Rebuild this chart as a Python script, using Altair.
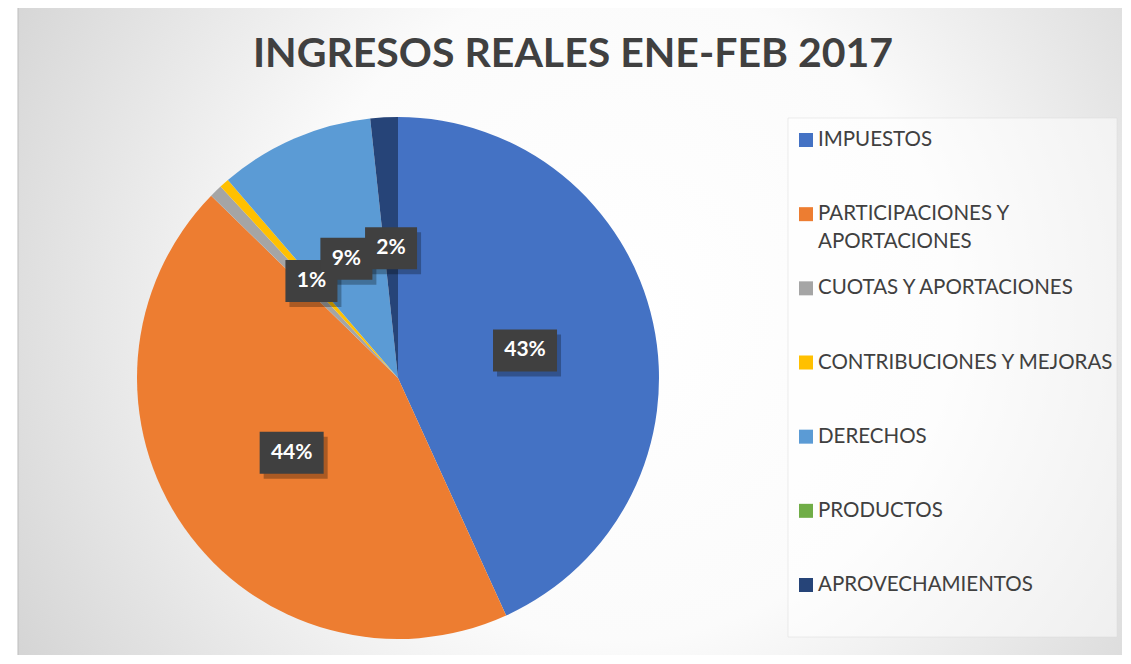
import altair as alt
import pandas as pd

TITLE = "INGRESOS REALES ENE-FEB 2017"
categories = [
    "IMPUESTOS",
    "PARTICIPACIONES Y APORTACIONES",
    "CUOTAS Y APORTACIONES",
    "CONTRIBUCIONES Y MEJORAS",
    "DERECHOS",
    "PRODUCTOS",
    "APROVECHAMIENTOS",
]
legend_text = [
    "IMPUESTOS",
    "PARTICIPACIONES Y|APORTACIONES",
    "CUOTAS Y APORTACIONES",
    "CONTRIBUCIONES Y MEJORAS",
    "DERECHOS",
    "PRODUCTOS",
    "APROVECHAMIENTOS",
]
shares = [43.2, 44.1, 0.8, 0.6, 9.6, 0.0, 1.7]
slice_labels = ["43%", "44%", "", "1%", "9%", "", "2%"]
colors = ["#4472C4", "#ED7D31", "#A5A5A5", "#FFC000", "#5B9BD5", "#70AD47", "#264478"]

df = pd.DataFrame({
    "idx": list(range(len(categories))),
    "cat": categories,
    "share": shares,
    "lbl": slice_labels,
    "leg": legend_text,
})
title_df = pd.DataFrame({"title": [TITLE]})

R = 261.0
color_scale = alt.Scale(domain=categories, range=colors)
unit = alt.Scale(domain=[-1, 1], nice=False, zero=False)

bg_grad = alt.RadialGradient(
    gradient="radial",
    x1=0.54, y1=0.48, x2=0.54, y2=0.48, r1=0, r2=0.78,
    stops=[
        alt.GradientStop(color="#ffffff", offset=0),
        alt.GradientStop(color="#fbfbfb", offset=0.38),
        alt.GradientStop(color="#c2c2c2", offset=1),
    ],
)

background = alt.Chart(title_df).mark_rect(
    fill=bg_grad, stroke="#bdbdbd", strokeWidth=1
).encode(x=alt.value(-119), x2=alt.value(990), y=alt.value(-112), y2=alt.value(545))

legend_bg = alt.Chart(title_df).mark_rect(
    fill="#ffffff", fillOpacity=0.5, stroke="#d8d8d8", strokeWidth=0.5
).encode(x=alt.value(651), x2=alt.value(980), y=alt.value(1), y2=alt.value(520))

base = alt.Chart(df)

pie = base.mark_arc(outerRadius=R).encode(
    theta=alt.Theta("share:Q", stack=True),
    color=alt.Color("cat:N", scale=color_scale, legend=None),
    order=alt.Order("idx:Q"),
)

pos = (
    base.transform_window(cum="sum(share)", sort=[alt.SortField("idx")], frame=[None, 0])
    .transform_joinaggregate(total="sum(share)")
    .transform_calculate(mid="2*PI*(datum.cum - datum.share/2)/datum.total")
    .transform_calculate(
        lx="0.498*sin(datum.mid)",
        ly="0.498*cos(datum.mid)",
        hw=f"(28 + 12*length(datum.lbl))/2/{R}",
        hh=f"21/{R}",
    )
    .transform_calculate(
        x0="datum.lx - datum.hw", x1="datum.lx + datum.hw",
        y0="datum.ly - datum.hh", y1="datum.ly + datum.hh",
        sx0=f"datum.lx - datum.hw + 4/{R}", sx1=f"datum.lx + datum.hw + 4/{R}",
        sy0=f"datum.ly - datum.hh - 5/{R}", sy1=f"datum.ly + datum.hh - 5/{R}",
    )
    .transform_filter("datum.lbl != ''")
)

shadow = pos.mark_rect(color="#000000", opacity=0.28).encode(
    x=alt.X("sx0:Q", scale=unit, axis=None), x2="sx1:Q",
    y=alt.Y("sy0:Q", scale=unit, axis=None), y2="sy1:Q",
)
boxes = pos.mark_rect(color="#404040").encode(
    x=alt.X("x0:Q", scale=unit, axis=None), x2="x1:Q",
    y=alt.Y("y0:Q", scale=unit, axis=None), y2="y1:Q",
)
labels = pos.mark_text(
    font="Lato", fontSize=21, fontWeight="bold", color="#ffffff", baseline="middle"
).encode(
    x=alt.X("lx:Q", scale=unit, axis=None),
    y=alt.Y("ly:Q", scale=unit, axis=None),
    text="lbl:N",
)

leg_y = alt.Y("cat:N", scale=alt.Scale(type="point", domain=categories, range=[23, 468], padding=0), axis=None)

leg_sym = base.mark_square(size=196, opacity=1).encode(
    x=alt.value(669), y=leg_y,
    color=alt.Color("cat:N", scale=color_scale, legend=None),
)
leg_txt = base.transform_calculate(legl="split(datum.leg, '|')").mark_text(
    align="left", baseline="line-top", lineHeight=28, dy=-14,
    font="Lato", fontSize=20.5, color="#404040",
).encode(x=alt.value(681), y=leg_y, text="legl:N")

title = alt.Chart(title_df).mark_text(
    font="Lato", fontSize=41, fontWeight="bold", color="#404040",
    align="center", baseline="middle",
).encode(x=alt.value(436), y=alt.value(-62), text="title:N")

chart = (
    alt.layer(background, legend_bg, pie, shadow, boxes, labels, leg_sym, leg_txt, title)
    .resolve_scale(x="independent", y="independent")
    .properties(
        width=522, height=522,
        padding={"left": 129, "top": 109, "right": 463, "bottom": 16},
        autosize=alt.AutoSizeParams(type="none"),
    )
    .configure_view(stroke=None)
)

chart.save("out.html", embed_options={"renderer": "svg", "actions": False})
